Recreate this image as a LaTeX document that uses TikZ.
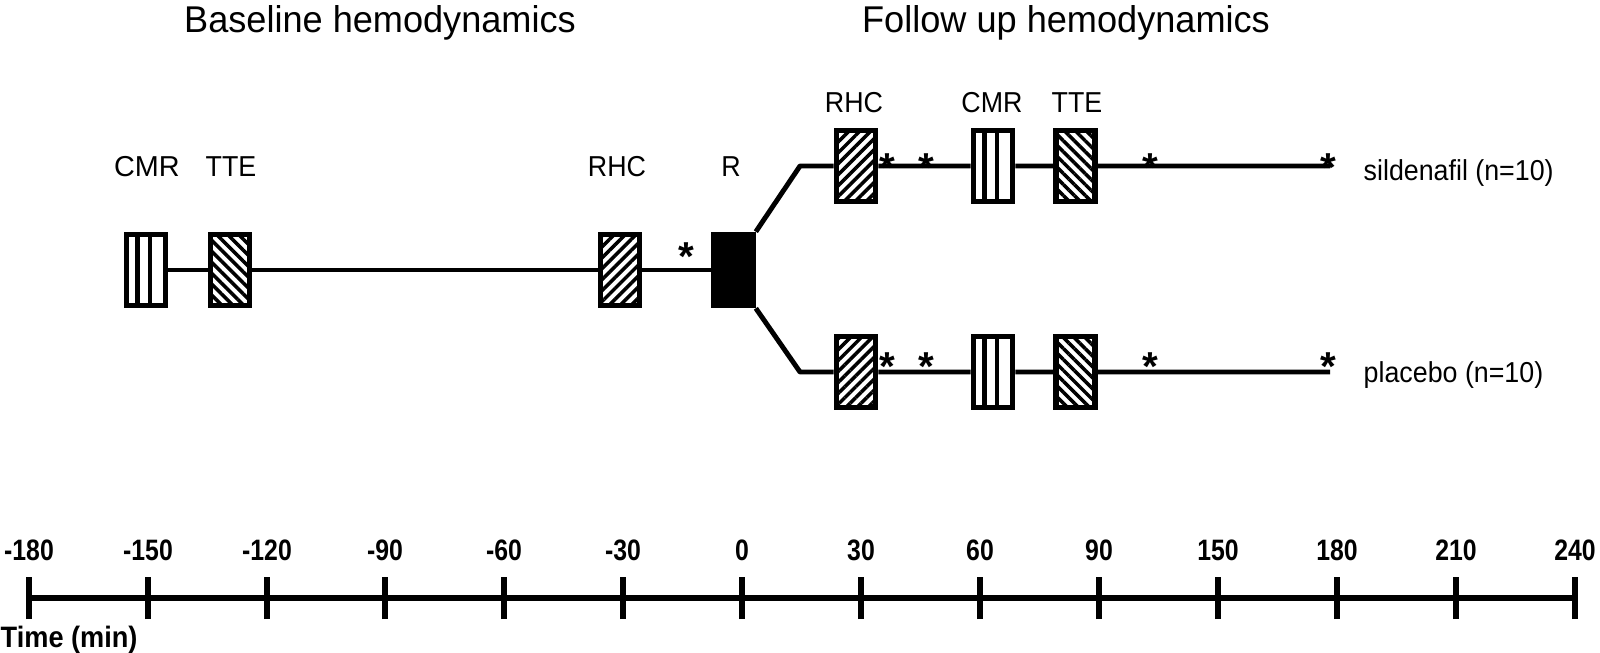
\documentclass[tikz,border=0pt]{standalone}
\usepackage{fontspec}
\setmainfont{Liberation Sans}
\usetikzlibrary{patterns.meta}
\newcommand{\tickfmt}[1]{\scalebox{0.84}[1]{#1}}
\newcommand{\labfmt}[1]{\scalebox{0.93}[1]{#1}}

\begin{document}
\begin{tikzpicture}[
    exam_box/.style={draw=black,line width=1.6pt,minimum width=0.39cm,minimum height=0.71cm,inner sep=0pt},
    cmr_box/.style={exam_box,path picture={
        \draw[line width=1.2pt] ([xshift=-0.085cm]path picture bounding box.north) -- ([xshift=-0.085cm]path picture bounding box.south);
        \draw[line width=1.2pt] ([xshift=0.04cm]path picture bounding box.north) -- ([xshift=0.04cm]path picture bounding box.south);}},
    tte_box/.style={exam_box,pattern={Lines[angle=-45,distance=2.2pt,line width=1pt]}},
    rhc_box/.style={exam_box,pattern={Lines[angle=45,distance=2.2pt,line width=1pt]}},
    rand_box/.style={exam_box,fill=black},
    wire/.style={line width=1.4pt,line join=round},
    star_mark/.style={font=\bfseries\fontsize{11.5}{13}\selectfont,inner sep=0pt,anchor=north},
    exam_label/.style={font=\fontsize{8.2}{10}\selectfont,inner sep=0pt},
    arm_label/.style={font=\fontsize{8.2}{10}\selectfont,inner sep=0pt,anchor=west},
    title_label/.style={font=\fontsize{10.6}{12}\selectfont,inner sep=0pt},
    axis_line/.style={line width=1.5pt},
    tick_line/.style={line width=1.5pt},
    tick_label/.style={font=\bfseries\fontsize{8.4}{10}\selectfont,inner sep=0pt}]
\useasboundingbox (0,0) rectangle (16.00,6.52);
% titles
\node[title_label] (base_title) at (3.80,6.29) {\scalebox{0.97}[1]{Baseline hemodynamics}};
\node[title_label] (fu_title) at (10.66,6.29) {\scalebox{0.97}[1]{Follow up hemodynamics}};
% baseline
\node[cmr_box] (cmr0) at (1.46,3.82) {};
\node[tte_box] (tte0) at (2.30,3.82) {};
\node[rhc_box] (rhc0) at (6.20,3.82) {};
\node[rand_box] (r) at (7.335,3.82) {};
\node[exam_label] (cmr0_lbl) at (1.47,4.85) {CMR};
\node[exam_label] (tte0_lbl) at (2.31,4.85) {\labfmt{TTE}};
\node[exam_label] (rhc0_lbl) at (6.17,4.85) {\labfmt{RHC}};
\node[exam_label] (r_lbl) at (7.31,4.85) {\labfmt{R}};
\draw[wire] (cmr0) -- (tte0) -- (rhc0) -- (r);
\node[star_mark] (s0) at (6.86,4.10) {*};
% sildenafil arm
\coordinate (c_up) at (8.00,4.86);
\coordinate (e_up) at (13.30,4.86);
\node[rhc_box] (rhc_up) at (8.56,4.86) {};
\node[cmr_box] (cmr_up) at (9.93,4.86) {};
\node[tte_box] (tte_up) at (10.755,4.86) {};
\node[exam_label] (rhc_up_lbl) at (8.54,5.49) {\labfmt{RHC}};
\node[exam_label] (cmr_up_lbl) at (9.92,5.49) {\labfmt{CMR}};
\node[exam_label] (tte_up_lbl) at (10.77,5.49) {\labfmt{TTE}};
\draw[wire] (r.north east) -- (c_up) -- (rhc_up) -- (cmr_up) -- (tte_up) -- (e_up);
\node[star_mark] (s1) at (8.87,4.99) {*};
\node[star_mark] (s2) at (9.26,4.99) {*};
\node[star_mark] (s3) at (11.50,4.99) {*};
\node[star_mark] (s4) at (13.28,4.99) {*};
\node[arm_label] (sil) at (13.63,4.79) {\labfmt{sildenafil (n=10)}};
% placebo arm
\coordinate (c_lo) at (8.00,2.80);
\coordinate (e_lo) at (13.30,2.80);
\node[rhc_box] (rhc_lo) at (8.56,2.80) {};
\node[cmr_box] (cmr_lo) at (9.93,2.80) {};
\node[tte_box] (tte_lo) at (10.755,2.80) {};
\draw[wire] (r.south east) -- (c_lo) -- (rhc_lo) -- (cmr_lo) -- (tte_lo) -- (e_lo);
\node[star_mark] (s5) at (8.87,3.00) {*};
\node[star_mark] (s6) at (9.26,3.00) {*};
\node[star_mark] (s7) at (11.50,3.00) {*};
\node[star_mark] (s8) at (13.28,3.00) {*};
\node[arm_label] (pla) at (13.63,2.77) {\labfmt{placebo (n=10)}};
% time axis
\draw[axis_line] (0.29,0.54) -- (15.75,0.54);
\draw[tick_line] (0.29,0.33) -- (0.29,0.75);
\draw[tick_line] (1.48,0.33) -- (1.48,0.75);
\draw[tick_line] (2.67,0.33) -- (2.67,0.75);
\draw[tick_line] (3.85,0.33) -- (3.85,0.75);
\draw[tick_line] (5.04,0.33) -- (5.04,0.75);
\draw[tick_line] (6.23,0.33) -- (6.23,0.75);
\draw[tick_line] (7.42,0.33) -- (7.42,0.75);
\draw[tick_line] (8.61,0.33) -- (8.61,0.75);
\draw[tick_line] (9.80,0.33) -- (9.80,0.75);
\draw[tick_line] (10.99,0.33) -- (10.99,0.75);
\draw[tick_line] (12.18,0.33) -- (12.18,0.75);
\draw[tick_line] (13.37,0.33) -- (13.37,0.75);
\draw[tick_line] (14.56,0.33) -- (14.56,0.75);
\draw[tick_line] (15.75,0.33) -- (15.75,0.75);
\node[tick_label] (t0) at (0.29,1.02) {\tickfmt{-180}};
\node[tick_label] (t1) at (1.48,1.02) {\tickfmt{-150}};
\node[tick_label] (t2) at (2.67,1.02) {\tickfmt{-120}};
\node[tick_label] (t3) at (3.85,1.02) {\tickfmt{-90}};
\node[tick_label] (t4) at (5.04,1.02) {\tickfmt{-60}};
\node[tick_label] (t5) at (6.23,1.02) {\tickfmt{-30}};
\node[tick_label] (t6) at (7.42,1.02) {\tickfmt{0}};
\node[tick_label] (t7) at (8.61,1.02) {\tickfmt{30}};
\node[tick_label] (t8) at (9.80,1.02) {\tickfmt{60}};
\node[tick_label] (t9) at (10.99,1.02) {\tickfmt{90}};
\node[tick_label] (t10) at (12.18,1.02) {\tickfmt{150}};
\node[tick_label] (t11) at (13.37,1.02) {\tickfmt{180}};
\node[tick_label] (t12) at (14.56,1.02) {\tickfmt{210}};
\node[tick_label] (t13) at (15.75,1.02) {\tickfmt{240}};
\node[tick_label,anchor=west] (time_lbl) at (0.00,0.12) {\scalebox{0.92}[1]{Time (min)}};
\end{tikzpicture}
\end{document}
